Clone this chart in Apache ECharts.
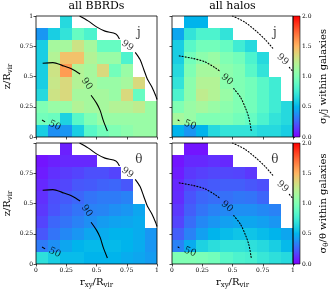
<!DOCTYPE html>
<html><head><meta charset="utf-8">
<script src="https://cdn.jsdelivr.net/npm/echarts@6/dist/echarts.min.js"></script>
<style>html,body{margin:0;padding:0;background:#fff}#c{width:332px;height:294px}</style>
</head><body><div id="c"></div>
<script>
// ---------- data ----------
const binEdges = [0, 0.1, 0.2, 0.3, 0.4, 0.5, 0.6, 0.7, 0.8, 0.9, 1.0];
const axisTicks = ['0', '0.25', '0.5', '0.75', '1'];
const cbarTicks = ['0.0', '0.5', '1.0', '1.5', '2.0'];
const titles = ['all BBRDs', 'all halos'];
const letters = ['j', 'θ'];

// rows: bottom (z 0-0.1) -> top (z 0.9-1.0); columns: r_xy 0-0.1 ... 0.9-1.0; null = empty bin
const bbrdJ = [
  [0.6, 0.38, 0.4, 0.6, 0.85, 0.95, 1.0, 1.05, 1.1, 1.1],
  [0.95, 0.92, 0.62, 0.85, 1.0, 1.1, 1.1, 1.1, 1.1, 1.1],
  [1.0, 1.1, 1.1, 1.2, 1.15, 1.15, 1.2, 1.2, 1.25, 1.1],
  [0.65, 1.3, 1.35, 1.15, 1.15, 1.15, 1.1, 1.35, 0.9, null],
  [0.6, 1.28, 1.35, 1.2, 1.15, 1.1, 1.1, 1.15, 1.35, null],
  [0.6, 1.3, 1.58, 1.2, 1.15, 1.35, 0.95, 1.1, null, null],
  [0.6, 1.2, 1.45, 1.45, 1.2, 1.1, 1.1, 0.8, null, null],
  [0.6, 1.15, 1.15, 1.3, 1.15, 0.9, 0.9, null, null, null],
  [0.4, 0.6, 0.7, 0.9, 0.8, null, null, null, null, null],
  [null, null, 0.65, null, null, null, null, null, null, null]
];
const haloJ = [
  [0.5, 0.4, 0.5, 0.65, 0.7, 0.7, 0.7, 0.65, 0.65, 0.6],
  [1.15, 1.1, 1.0, 1.0, 1.0, 0.95, 0.9, 0.8, 0.7, 0.65],
  [1.0, 1.1, 1.15, 1.1, 1.05, 1.0, 0.95, 0.85, 0.75, 0.65],
  [0.8, 1.05, 1.25, 1.2, 1.1, 1.0, 0.95, 0.85, 0.75, null],
  [0.7, 1.05, 1.2, 1.2, 1.05, 1.0, 0.95, 0.85, 0.75, null],
  [0.65, 1.0, 1.15, 1.15, 1.05, 1.0, 0.85, 0.7, null, null],
  [0.6, 0.95, 1.05, 1.1, 1.0, 0.95, 0.8, 0.65, null, null],
  [0.6, 0.85, 0.95, 0.95, 0.9, 0.75, 0.65, null, null, null],
  [0.45, 0.7, 0.8, 0.8, 0.7, null, null, null, null, null],
  [null, 0.5, 0.5, null, null, null, null, null, null, null]
];
const bbrdTheta = [
  [0.68, 0.6, 0.53, 0.53, 0.5, 0.5, 0.5, 0.47, 0.45, 0.42],
  [0.32, 0.38, 0.45, 0.5, 0.52, 0.52, 0.52, 0.5, 0.47, 0.4],
  [0.22, 0.3, 0.36, 0.4, 0.45, 0.47, 0.5, 0.5, 0.47, 0.4],
  [0.17, 0.26, 0.3, 0.34, 0.38, 0.42, 0.44, 0.45, 0.47, null],
  [0.14, 0.21, 0.26, 0.3, 0.34, 0.35, 0.38, 0.4, 0.45, null],
  [0.12, 0.2, 0.23, 0.26, 0.3, 0.32, 0.32, 0.34, null, null],
  [0.1, 0.15, 0.18, 0.22, 0.23, 0.25, 0.26, 0.22, null, null],
  [0.07, 0.12, 0.15, 0.17, 0.2, 0.2, 0.17, null, null, null],
  [0.05, 0.08, 0.1, 0.1, 0.1, null, null, null, null, null],
  [null, null, 0.08, null, null, null, null, null, null, null]
];
const haloTheta = [
  [1.0, 1.0, 0.98, 0.95, 0.85, 0.8, 0.78, 0.72, 0.68, 0.65],
  [0.34, 0.47, 0.62, 0.67, 0.7, 0.7, 0.68, 0.65, 0.6, 0.52],
  [0.24, 0.34, 0.43, 0.5, 0.53, 0.56, 0.56, 0.53, 0.5, 0.45],
  [0.17, 0.28, 0.36, 0.4, 0.43, 0.45, 0.45, 0.43, 0.4, null],
  [0.14, 0.24, 0.3, 0.34, 0.36, 0.38, 0.38, 0.36, 0.34, null],
  [0.11, 0.21, 0.26, 0.28, 0.29, 0.31, 0.3, 0.26, null, null],
  [0.1, 0.18, 0.21, 0.23, 0.24, 0.24, 0.22, 0.2, null, null],
  [0.07, 0.14, 0.16, 0.18, 0.18, 0.17, 0.14, null, null, null],
  [0.05, 0.1, 0.1, 0.12, 0.1, null, null, null, null, null],
  [null, 0.05, 0.05, null, null, null, null, null, null, null]
];

// contour lines (percent enclosed), split where the inline labels sit
const bbrd99a = [[0.36, 1.0], [0.43, 0.96], [0.5, 0.91], [0.57, 0.875], [0.66, 0.852], [0.69, 0.81]];
const bbrd99b = [[0.82, 0.70], [0.86, 0.64], [0.89, 0.56], [0.92, 0.48], [0.96, 0.41], [0.99, 0.34], [1.0, 0.31]];
const bbrd90a = [[0.055, 0.61], [0.14, 0.615], [0.22, 0.59], [0.30, 0.56], [0.365, 0.52]];
const bbrd90b = [[0.455, 0.345], [0.5, 0.28], [0.53, 0.22], [0.555, 0.14], [0.59, 0.05]];
const bbrd50 = [[0.05, 0.14], [0.075, 0.125]];
const halo99a = [[0.5, 1.0], [0.6, 0.95], [0.69, 0.88], [0.775, 0.80], [0.84, 0.725]];
const halo99b = [[0.97, 0.575], [0.995, 0.545]];
const halo90a = [[0.06, 0.67], [0.17, 0.65], [0.27, 0.622], [0.36, 0.57], [0.40, 0.54]];
const halo90b = [[0.51, 0.40], [0.565, 0.33], [0.605, 0.245], [0.635, 0.16], [0.655, 0.05]];
const halo50 = [[0.05, 0.14], [0.062, 0.133]];
// contour label: [x, y, text, angle]
const bbrdLabels = [[0.755, 0.755, '99', -35], [0.42, 0.44, '90', -55], [0.155, 0.095, '50', -25]];
const haloLabels = [[0.915, 0.64, '99', -42], [0.455, 0.475, '90', -40], [0.15, 0.1, '50', -22]];

// ---------- styling / layout ----------
const FONT = 'DejaVu Serif';
function rainbow(t) {
  const c = v => Math.round(255 * Math.max(0, Math.min(1, v)));
  return 'rgb(' + c(Math.abs(2 * t - 0.5)) + ',' + c(Math.sin(Math.PI * t)) + ',' + c(Math.cos(Math.PI * t / 2)) + ')';
}
const cmap = [];
for (let i = 0; i <= 40; i++) cmap.push(rainbow(i / 40));

const gridBoxes = [
  {left: 36, top: 16}, {left: 172, top: 16}, {left: 36, top: 143}, {left: 172, top: 143}
];
const cbarBoxes = [{left: 293, top: 16}, {left: 293, top: 143}];
const PW = 121, PH = 121;

const panels = [
  {data: bbrdJ, lines: [bbrd99a, bbrd99b, bbrd90a, bbrd90b, bbrd50], labels: bbrdLabels, dotted: false, letter: letters[0], xLab: false, yLab: true, hideTop: false, title: titles[0]},
  {data: haloJ, lines: [halo99a, halo99b, halo90a, halo90b, halo50], labels: haloLabels, dotted: true, letter: letters[0], xLab: false, yLab: false, hideTop: false, title: titles[1]},
  {data: bbrdTheta, lines: [bbrd99a, bbrd99b, bbrd90a, bbrd90b, bbrd50], labels: bbrdLabels, dotted: false, letter: letters[1], xLab: true, yLab: true, hideTop: true},
  {data: haloTheta, lines: [halo99a, halo99b, halo90a, halo90b, halo50], labels: haloLabels, dotted: true, letter: letters[1], xLab: true, yLab: false, hideTop: true}
];

const richBase = {
  m: {fontFamily: FONT, fontSize: 10, color: '#000', lineHeight: 14},
  sub: {fontFamily: FONT, fontSize: 7, color: '#000', lineHeight: 7, verticalAlign: 'bottom'}
};

const grid = [], xAxis = [], yAxis = [], series = [];

panels.forEach((p, i) => {
  grid.push({left: gridBoxes[i].left, top: gridBoxes[i].top, width: PW, height: PH,
    show: true, backgroundColor: 'rgba(0,0,0,0)', borderColor: '#000', borderWidth: 0.8, z: 10});
  xAxis.push({type: 'value', gridIndex: i, min: 0, max: 1, interval: 0.25,
    axisLine: {show: false}, splitLine: {show: false},
    axisTick: {show: true, length: 2.5, lineStyle: {color: '#000', width: 0.7}},
    axisLabel: {show: p.xLab, fontFamily: FONT, fontSize: 6, color: '#000', margin: 3,
      formatter: v => axisTicks[Math.round(v * 4)]},
    name: p.xLab ? '{m|r}{sub|xy}{m|/R}{sub|vir}' : '', nameLocation: 'middle', nameGap: 11,
    nameTextStyle: {rich: richBase}
  });
  yAxis.push({type: 'value', gridIndex: i, min: 0, max: 1, interval: 0.25,
    axisLine: {show: false}, splitLine: {show: false},
    axisTick: {show: true, length: 2.5, lineStyle: {color: '#000', width: 0.7}},
    axisLabel: {show: p.yLab, fontFamily: FONT, fontSize: 6, color: '#000', margin: 3,
      formatter: v => (p.hideTop && v === 1) ? '' : axisTicks[Math.round(v * 4)]},
    name: p.yLab ? '{m|z/R}{sub|vir}' : '', nameLocation: 'middle', nameGap: 22, nameRotate: 90,
    nameTextStyle: {rich: richBase}
  });
  // heatmap cells
  const cells = [];
  p.data.forEach((row, r) => row.forEach((v, c) => {
    if (v !== null) cells.push([binEdges[c], binEdges[c + 1], binEdges[r], binEdges[r + 1], v]);
  }));
  series.push({type: 'custom', xAxisIndex: i, yAxisIndex: i, z: 2, silent: true,
    encode: {x: [0, 1], y: [2, 3]}, data: cells,
    renderItem: (params, api) => {
      const a = api.coord([api.value(0), api.value(2)]);
      const b = api.coord([api.value(1), api.value(3)]);
      const x0 = Math.round(a[0]), x1 = Math.round(b[0]), y0 = Math.round(b[1]), y1 = Math.round(a[1]);
      return {type: 'rect', shape: {x: x0, y: y0, width: x1 - x0, height: y1 - y0},
        style: {fill: api.visual('color')}};
    }
  });
});

// titles via top axes
[0, 1].forEach(i => {
  xAxis.push({type: 'value', gridIndex: i, position: 'top', min: 0, max: 1,
    axisLine: {show: false}, axisTick: {show: false}, axisLabel: {show: false}, splitLine: {show: false},
    name: panels[i].title, nameLocation: 'middle', nameGap: 4,
    nameTextStyle: {fontFamily: FONT, fontSize: 11, color: '#000'}});
});

// contour lines + labels
panels.forEach((p, i) => {
  p.lines.forEach(seg => {
    series.push({type: 'line', xAxisIndex: i, yAxisIndex: i, z: 4, silent: true, data: seg,
      showSymbol: false, symbol: 'none', smooth: 0.3,
      lineStyle: p.dotted ? {color: '#000', width: 1.1, type: [1, 2], cap: 'round'} : {color: '#000', width: 1.1}
    });
  });
  series.push({type: 'scatter', xAxisIndex: i, yAxisIndex: i, z: 5, silent: true, symbolSize: 0,
    data: p.labels.map(l => ({value: [l[0], l[1]],
      label: {show: true, position: 'inside', formatter: l[2], rotate: l[3],
        fontFamily: FONT, fontSize: 9.5, color: '#000'}}))
  });
  series.push({type: 'scatter', xAxisIndex: i, yAxisIndex: i, z: 5, silent: true, symbolSize: 0,
    data: [{value: [0.85, 0.86], label: {show: true, position: 'inside', formatter: p.letter,
      fontFamily: FONT, fontSize: 12, color: '#000'}}]
  });
});

// colorbars
const cbNames = ['{m|σ}{sub|j}{m|/j within galaxies}', '{m|σ}{sub|θ}{m|/θ within galaxies}'];
cbarBoxes.forEach((b, k) => {
  const gi = 4 + k;
  grid.push({left: b.left, top: b.top, width: 7, height: PH, show: true,
    backgroundColor: 'rgba(0,0,0,0)', borderColor: '#000', borderWidth: 0.6, z: 10});
  xAxis.push({type: 'value', gridIndex: gi, min: 0, max: 1, show: false});
  yAxis.push({type: 'value', gridIndex: gi, min: 0, max: 2, interval: 0.5, position: 'right',
    axisLine: {show: false}, splitLine: {show: false},
    axisTick: {show: true, length: 2, lineStyle: {color: '#000', width: 0.7}},
    axisLabel: {fontFamily: FONT, fontSize: 6, color: '#000', margin: 2,
      formatter: v => cbarTicks[Math.round(v * 2)]},
    name: cbNames[k], nameLocation: 'middle', nameGap: 16, nameRotate: 90,
    nameTextStyle: {rich: richBase}
  });
  const stops = cmap.map((c, j) => ({offset: j / (cmap.length - 1), color: c}));
  series.push({type: 'custom', xAxisIndex: 6 + k, yAxisIndex: gi, silent: true,
    data: [[0, 1, 0, 2]], encode: {x: [0, 1], y: [2, 3]},
    renderItem: (params, api) => {
      const a = api.coord([api.value(0), api.value(2)]);
      const c = api.coord([api.value(1), api.value(3)]);
      return {type: 'rect', shape: {x: a[0], y: c[1], width: c[0] - a[0], height: a[1] - c[1]},
        style: {fill: new echarts.graphic.LinearGradient(0, 1, 0, 0, stops)}};
    }
  });
});

const chart = echarts.init(document.getElementById('c'), null, {renderer: 'canvas'});
chart.setOption({
  animation: false,
  backgroundColor: '#fff',
  grid, xAxis, yAxis,
  visualMap: {type: 'continuous', show: false, min: 0, max: 2, dimension: 4,
    seriesIndex: [0, 1, 2, 3], inRange: {color: cmap}},
  series
});
</script></body></html>
